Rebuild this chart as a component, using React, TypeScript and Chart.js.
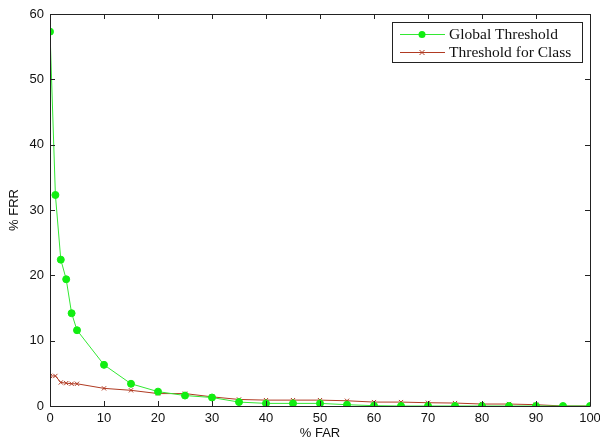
import React, { useEffect, useRef } from "react";
import { Chart, registerables } from "chart.js";

Chart.register(...registerables);

const farValues = [0, 1, 2, 3, 4, 5, 10, 15, 20, 25, 30, 35, 40, 45, 50, 55, 60, 65, 70, 75, 80, 85, 90, 95, 100];
const globalFrr = [57.3, 32.3, 22.4, 19.4, 14.2, 11.6, 6.3, 3.4, 2.2, 1.6, 1.3, 0.6, 0.4, 0.4, 0.4, 0.2, 0.05, 0, 0, 0, 0, 0, 0, 0, 0];
const classFrr = [4.6, 4.6, 3.6, 3.5, 3.4, 3.4, 2.7, 2.4, 1.9, 1.9, 1.4, 1.0, 0.9, 0.9, 0.9, 0.8, 0.6, 0.6, 0.5, 0.45, 0.3, 0.3, 0.2, 0, 0];
const seriesNames = ["Global Threshold", "Threshold for Class"];
const xTitle = "% FAR";
const yTitle = "% FRR";

const GREEN = "#33e833";
const GREEN_PT = "#11ee11";
const RED = "#b03a22";

const boxPlugin = {
  id: "matlabBox",
  afterDraw(chart: any) {
    const { ctx, chartArea: a, scales } = chart;
    const xs = scales.x;
    const ys = scales.y;
    ctx.save();
    ctx.strokeStyle = "#222";
    ctx.lineWidth = 1;
    ctx.beginPath();
    ctx.rect(Math.round(a.left) + 0.5, Math.round(a.top) + 0.5, Math.round(a.right - a.left), Math.round(a.bottom - a.top));
    ctx.stroke();
    const tl = 5;
    ctx.beginPath();
    xs.ticks.forEach((t: any) => {
      const px = Math.round(xs.getPixelForValue(t.value)) + 0.5;
      ctx.moveTo(px, a.bottom);
      ctx.lineTo(px, a.bottom - tl);
      ctx.moveTo(px, a.top);
      ctx.lineTo(px, a.top + tl);
    });
    ys.ticks.forEach((t: any) => {
      const py = Math.round(ys.getPixelForValue(t.value)) + 0.5;
      ctx.moveTo(a.left, py);
      ctx.lineTo(a.left + tl, py);
      ctx.moveTo(a.right, py);
      ctx.lineTo(a.right - tl, py);
    });
    ctx.stroke();

    // legend
    const lx = 392, ly = 22, lw = 190, lh = 40;
    ctx.fillStyle = "#fff";
    ctx.fillRect(lx, ly, lw, lh);
    ctx.strokeStyle = "#222";
    ctx.strokeRect(lx + 0.5, ly + 0.5, lw, lh);
    ctx.font = '15.5px "Liberation Serif", "Times New Roman", serif';
    ctx.textBaseline = "middle";
    ctx.textAlign = "left";
    const rows = [
      { y: ly + 12, color: GREEN, name: seriesNames[0], mark: "dot" },
      { y: ly + 30, color: RED, name: seriesNames[1], mark: "x" },
    ];
    rows.forEach((r) => {
      ctx.strokeStyle = r.color;
      ctx.lineWidth = 1;
      ctx.beginPath();
      ctx.moveTo(lx + 8, r.y + 0.5);
      ctx.lineTo(lx + 53, r.y + 0.5);
      ctx.stroke();
      const cx = lx + 30;
      if (r.mark === "dot") {
        ctx.fillStyle = GREEN_PT;
        ctx.beginPath();
        ctx.arc(cx, r.y + 0.5, 3.5, 0, Math.PI * 2);
        ctx.fill();
      } else {
        ctx.beginPath();
        ctx.moveTo(cx - 2.5, r.y - 2);
        ctx.lineTo(cx + 2.5, r.y + 3);
        ctx.moveTo(cx + 2.5, r.y - 2);
        ctx.lineTo(cx - 2.5, r.y + 3);
        ctx.stroke();
      }
      ctx.fillStyle = "#111";
      ctx.fillText(r.name, lx + 57, r.y + 1);
    });
    ctx.restore();
  },
};

export default function App() {
  const ref = useRef<HTMLCanvasElement | null>(null);
  useEffect(() => {
    if (!ref.current) return;
    const tickFont = { family: '"Liberation Sans", Arial, sans-serif', size: 13 };
    const chart = new Chart(ref.current, {
      type: "line",
      data: {
        datasets: [
          {
            label: seriesNames[0],
            data: farValues.map((x, i) => ({ x, y: globalFrr[i] })),
            borderColor: GREEN,
            backgroundColor: GREEN_PT,
            pointBackgroundColor: GREEN_PT,
            pointBorderColor: GREEN_PT,
            pointRadius: 3.5,
            pointStyle: "circle",
            borderWidth: 1,
            tension: 0,
          },
          {
            label: seriesNames[1],
            data: farValues.map((x, i) => ({ x, y: classFrr[i] })),
            borderColor: RED,
            backgroundColor: RED,
            pointBorderColor: RED,
            pointRadius: 3,
            pointStyle: "crossRot",
            pointBorderWidth: 1,
            borderWidth: 1,
            tension: 0,
          },
        ],
      },
      options: {
        animation: false,
        responsive: false,
        devicePixelRatio: 1,
        layout: { padding: { top: 14, right: 0, left: 0, bottom: 0 } },
        plugins: { legend: { display: false }, tooltip: { enabled: false } },
        scales: {
          x: {
            type: "linear",
            min: 0,
            max: 100,
            ticks: { stepSize: 10, color: "#111", font: tickFont, padding: 5, maxRotation: 0 },
            grid: { display: false, drawTicks: false },
            border: { display: false },
            title: { display: true, text: xTitle, color: "#111", font: tickFont, padding: { top: 1, bottom: 0 } },
            afterFit: (s: any) => { s.height = 35; s.paddingRight = 10; },
          },
          y: {
            type: "linear",
            min: 0,
            max: 60,
            ticks: { stepSize: 10, color: "#111", font: tickFont, padding: 6 },
            grid: { display: false, drawTicks: false },
            border: { display: false },
            title: { display: true, text: yTitle, color: "#111", font: tickFont, padding: { top: 7, bottom: 0 } },
            afterFit: (s: any) => { s.width = 50; },
          },
        },
      },
      plugins: [boxPlugin],
    } as any);
    return () => chart.destroy();
  }, []);
  return (
    <div style={{ position: "fixed", left: 0, top: 0, width: 600, height: 441, background: "#fff" }}>
      <canvas ref={ref} width={600} height={441} style={{ width: 600, height: 441 }} />
    </div>
  );
}
